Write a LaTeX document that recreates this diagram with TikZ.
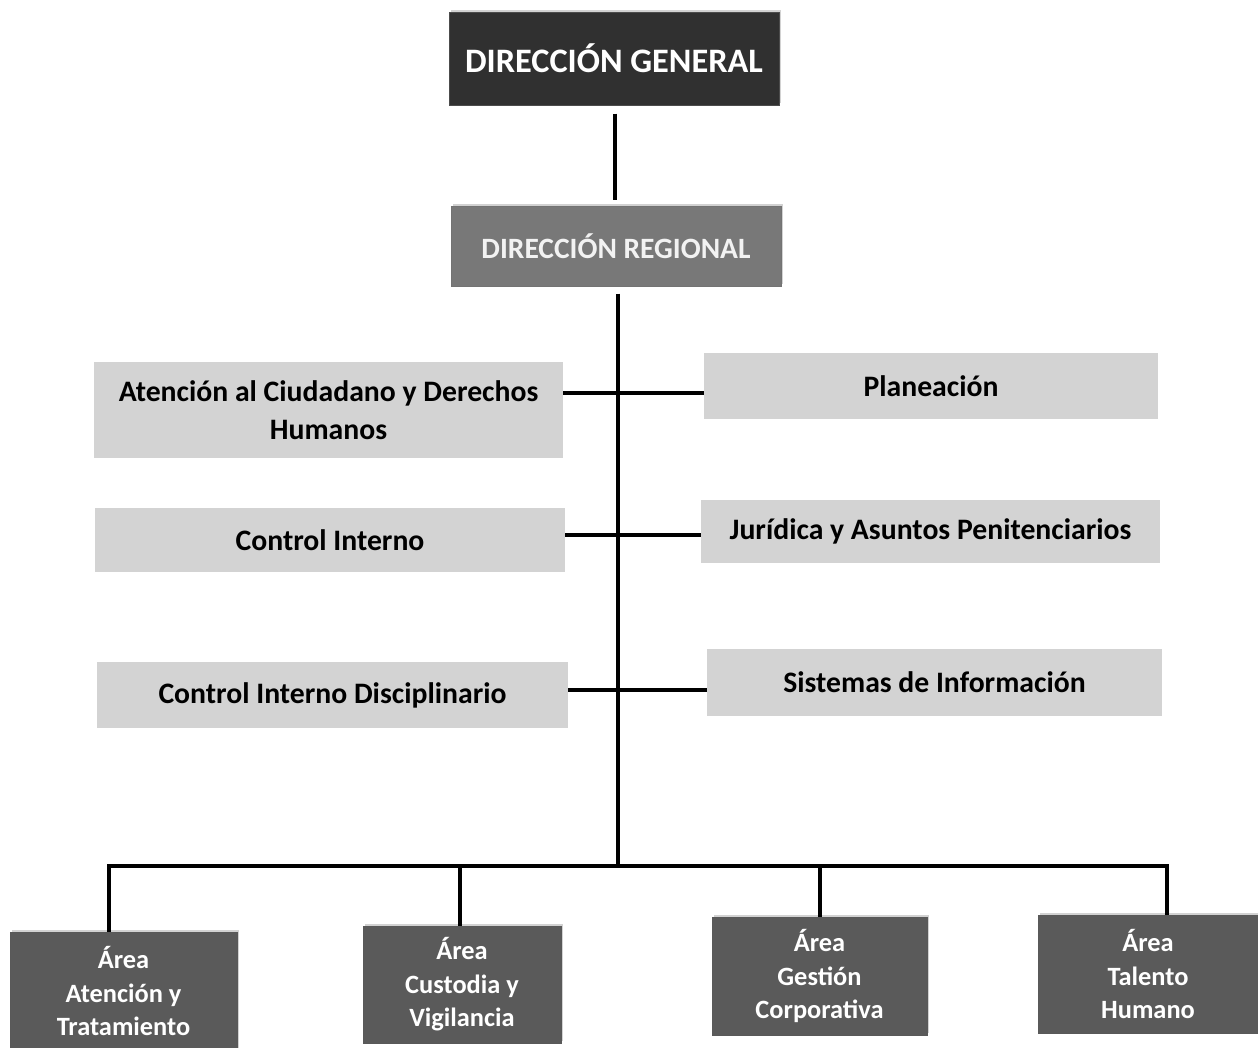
\documentclass[tikz,border=0pt]{standalone}
\usepackage{fontspec}
\setmainfont{Carlito}
\usetikzlibrary{shadows}
\definecolor{dgfill}{HTML}{303030}
\definecolor{drfill}{HTML}{787878}
\definecolor{lightbox}{HTML}{D3D3D3}
\definecolor{areafill}{HTML}{5A5A5A}
\definecolor{drtext}{HTML}{F2F2F2}
\tikzset{
  topbox/.style={draw=black!70, line width=1pt, fill=dgfill, text=white, inner sep=0pt, align=center,
    font=\fontsize{34.3}{41}\selectfont\bfseries,
    drop shadow={shadow xshift=2pt, shadow yshift=2pt, opacity=0.35}},
  regbox/.style={draw=black!55, line width=1pt, fill=drfill, text=drtext, inner sep=0pt, align=center,
    font=\fontsize{29.5}{35}\selectfont\bfseries,
    drop shadow={shadow xshift=2pt, shadow yshift=2pt, opacity=0.35}},
  unitbox/.style={fill=lightbox, text=black, inner sep=0pt, align=center,
    font=\fontsize{29.7}{37.5}\selectfont\bfseries},
  areabox/.style={draw=black!65, line width=1pt, fill=areafill, text=white, inner sep=0pt, align=center,
    font=\fontsize{26.4}{33.5}\selectfont\bfseries,
    drop shadow={shadow xshift=2pt, shadow yshift=2pt, opacity=0.35}},
  link/.style={draw=black, line width=4pt},
}
\begin{document}
\begin{tikzpicture}[x=1pt,y=-1pt]
\useasboundingbox (0,0) rectangle (1258,1047);
\fill[white] (0,0) rectangle (1258,1047);

% top
\node[topbox, minimum width=330pt, minimum height=93pt] (DG) at (614,58.5) {DIRECCIÓN GENERAL};
\node[regbox, minimum width=330pt, minimum height=80pt] (DR) at (616,246) {DIRECCIÓN REGIONAL};

% staff units
\node[unitbox, minimum width=469pt, minimum height=96pt] (A1) at (328.5,410) {Atención al Ciudadano y Derechos\\Humanos};
\node[unitbox, minimum width=470pt, minimum height=64pt] (A2) at (330,540) {Control Interno};
\node[unitbox, minimum width=471pt, minimum height=66pt] (A3) at (332.5,695) {Control Interno Disciplinario};
\node[unitbox, minimum width=454pt, minimum height=66pt] (B1) at (931,386) {Planeación};
\node[unitbox, minimum width=459pt, minimum height=63pt] (B2) at (930.5,531.5) {Jurídica y Asuntos Penitenciarios};
\node[unitbox, minimum width=455pt, minimum height=67pt] (B3) at (934.5,682.5) {Sistemas de Información};

% areas
\node[areabox, minimum width=227pt, minimum height=118pt] (C1) at (123.5,991) {Área\\Atención y\\Tratamiento};
\node[areabox, minimum width=198pt, minimum height=117pt] (C2) at (462,984.5) {Área\\Custodia y\\Vigilancia};
\node[areabox, minimum width=215pt, minimum height=118pt] (C3) at (819.5,976) {Área\\Gestión\\Corporativa};
\node[areabox, minimum width=220pt, minimum height=118pt] (C4) at (1148,974) {Área\\Talento\\Humano};

% helper coordinates
\coordinate (bus) at (618,866);
\coordinate (h1) at (618,393);
\coordinate (h2) at (618,535);
\coordinate (h3) at (618,690);

% connectors
\draw[link, shorten <=8pt, shorten >=6pt] ([xshift=1pt]DG.south) -- ([xshift=1pt]DG.south |- DR.north);
\draw[link, shorten <=7pt] ([xshift=2pt]DR.south) -- ([xshift=2pt]DR.south |- bus);
\draw[link] (A1.east |- h1) -- (B1.west |- h1);
\draw[link] (A2.east |- h2) -- (B2.west |- h2);
\draw[link] (A3.east |- h3) -- (B3.west |- h3);
\draw[link, line join=miter] ([xshift=-15pt]C1.north) -- ([xshift=-15pt]C1.north |- bus) -- ([xshift=19pt]C4.north |- bus) -- ([xshift=19pt]C4.north);
\draw[link] ([xshift=-2pt]C2.north) -- ([xshift=-2pt]C2.north |- bus);
\draw[link] (C3.north) -- (C3.north |- bus);
\end{tikzpicture}
\end{document}
